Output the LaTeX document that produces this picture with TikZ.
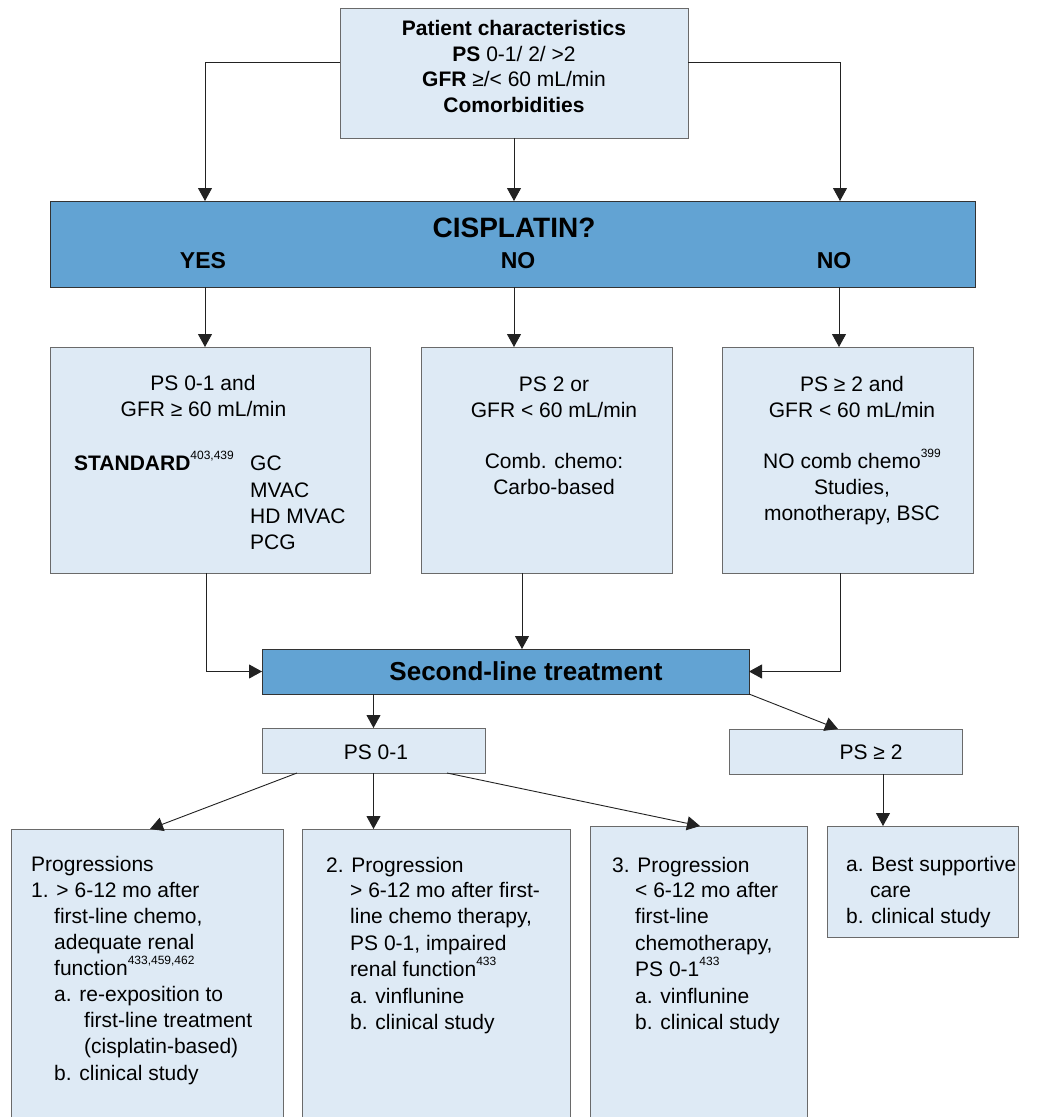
\documentclass[tikz,border=0pt]{standalone}
\usepackage{fontspec}
\setmainfont{Liberation Sans}
\usetikzlibrary{arrows.meta}
\definecolor{lightbox}{HTML}{DEEAF5}
\definecolor{darkbox}{HTML}{62A3D3}
\definecolor{edgegray}{HTML}{6A6A6A}
\definecolor{linegray}{HTML}{222222}
\newcommand{\sups}[1]{\raisebox{0.5em}{\fontsize{12}{12}\selectfont #1}}
\newcommand{\mybox}[6]{\node[#6, minimum width={#4-#2}, minimum height={#5-#3}] (#1) at ({(#2+#4)/2},{(#3+#5)/2}) {};}
\newcommand{\lt}[4]{\node[txt] (#1) at (#2,#3) {#4};}
\newcommand{\ct}[4]{\node[ctxt] (#1) at (#2,#3) {#4};}
\begin{document}
\begin{tikzpicture}[x=1pt,y=-1pt,
 lbox/.style={draw=edgegray, fill=lightbox, line width=1pt, inner sep=0pt, outer sep=0pt},
 dbox/.style={draw=black!80, fill=darkbox, line width=1pt, inner sep=0pt, outer sep=0pt},
 arr/.style={draw=linegray, line width=0.9pt, -{Triangle[length=13pt,width=14pt]}},
 txt/.style={font=\fontsize{21}{26}\selectfont, inner sep=0pt, anchor=base west},
 ctxt/.style={font=\fontsize{21}{26}\selectfont, inner sep=0pt, anchor=base},
]
\path[use as bounding box] (0,0) rectangle (1040,1117);
\clip (0,0) rectangle (1040,1117);
\fill[white] (0,0) rectangle (1040,1117);

% boxes
\mybox{top}{340}{8}{688}{138}{lbox}
\mybox{cis}{50}{201}{975}{287}{dbox}
\mybox{b1}{50}{347}{370}{573}{lbox}
\mybox{b2}{421}{347}{672}{573}{lbox}
\mybox{b3}{722}{347}{973}{573}{lbox}
\mybox{sl}{262}{649}{749}{694}{dbox}
\mybox{p01}{262}{728}{485}{773}{lbox}
\mybox{p2}{729}{729}{962}{774}{lbox}
\mybox{bA}{11}{829}{283}{1135}{lbox}
\mybox{bB}{302}{829}{570}{1135}{lbox}
\mybox{bC}{590}{826}{807}{1135}{lbox}
\mybox{bD}{827}{826}{1018}{937}{lbox}

% column coordinates
\coordinate (c1) at (205,0);
\coordinate (c3) at (839,0);
\coordinate (d1) at (206,0);
\coordinate (d2) at (522,0);
\coordinate (d3) at (840,0);

% connectors
\draw[arr] ([yshift=11pt]top.west) -| ([xshift=-307.5pt]cis.north);
\draw[arr] ([yshift=11pt]top.east) -| ([xshift=327.5pt]cis.north);
\draw[arr] (top.south) -- (top.south |- cis.north);
\draw[arr] (cis.south -| c1) -- (b1.north -| c1);
\draw[arr] (cis.south -| top.south) -- (b2.north -| top.south);
\draw[arr] (cis.south -| c3) -- (b3.north -| c3);
\draw[arr] (b1.south -| d1) |- (sl.west);
\draw[arr] (b2.south -| d2) -- (sl.north -| d2);
\draw[arr] (b3.south -| d3) |- (sl.east);
\draw[arr] (sl.south -| p01.north) -- (p01.north);
\draw[arr] (sl.south east) -- ([xshift=-7.5pt]p2.north);
\draw[arr] ([xshift=-76.5pt]p01.south) -- ([xshift=3pt]bA.north);
\draw[arr] (p01.south) -- (p01.south |- bB.north);
\draw[arr] ([xshift=73.5pt]p01.south) -- ([xshift=1.5pt]bC.north);
\draw[arr] ([xshift=37.5pt]p2.south) -- ([xshift=37.5pt]p2.south |- bD.north);

% texts: top
\ct{t1}{514}{35.5}{\textbf{Patient characteristics}}
\ct{t2}{514}{61}{\textbf{PS} 0-1/ 2/ >2}
\ct{t3}{514}{86.5}{\textbf{GFR} ≥/< 60 mL/min}
\ct{t4}{514}{112}{\textbf{Comorbidities}}
% cisplatin
\node[inner sep=0pt, anchor=base, font=\fontsize{28}{30}\selectfont\bfseries] (cq) at (514,237) {CISPLATIN?};
\node[inner sep=0pt, anchor=base, font=\fontsize{23}{25}\selectfont\bfseries] (yes) at (203,268) {YES};
\node[inner sep=0pt, anchor=base, font=\fontsize{23}{25}\selectfont\bfseries] (no1) at (518,268) {NO};
\node[inner sep=0pt, anchor=base, font=\fontsize{23}{25}\selectfont\bfseries] (no2) at (834,268) {NO};
% box 1
\ct{a1}{203}{390}{PS 0-1 and}
\ct{a2}{203.5}{416}{GFR ≥ 60 mL/min}
\lt{a3}{74}{470}{\textbf{STANDARD}\sups{403,439}}
\lt{a4}{250}{470}{GC}
\lt{a5}{250}{497}{MVAC}
\lt{a6}{250}{523}{HD MVAC}
\lt{a7}{250}{549}{PCG}
% box 2
\ct{e1}{554}{391}{PS 2 or}
\ct{e2}{554}{417}{GFR < 60 mL/min}
\ct{e3}{554}{468}{Comb. chemo:}
\ct{e4}{554}{494}{Carbo-based}
% box 3
\ct{f1}{852}{391}{PS ≥ 2 and}
\ct{f2}{852}{417}{GFR < 60 mL/min}
\ct{f3}{852}{468}{NO comb chemo\sups{399}}
\ct{f4}{852}{494}{Studies,}
\ct{f5}{852}{520}{monotherapy, BSC}
% second line
\node[inner sep=0pt, anchor=base, font=\fontsize{26}{28}\selectfont\bfseries] (slt) at (526,680) {Second-line treatment};
\ct{g1}{376}{759}{PS 0-1}
\ct{g2}{871}{759}{PS ≥ 2}
% box A
\lt{h1}{31}{871}{Progressions}
\lt{h2}{31}{897}{1. > 6-12 mo after}
\lt{h3}{54}{923}{first-line chemo,}
\lt{h4}{54}{949}{adequate renal}
\lt{h5}{54}{975}{function\sups{433,459,462}}
\lt{h6}{54}{1001}{a. re-exposition to}
\lt{h7}{84}{1027}{first-line treatment}
\lt{h8}{84}{1053}{(cisplatin-based)}
\lt{h9}{54}{1080}{b. clinical study}
% box B
\lt{i1}{326}{872}{2. Progression}
\lt{i2}{350}{897}{> 6-12 mo after first-}
\lt{i3}{350}{923}{line chemo therapy,}
\lt{i4}{350}{950}{PS 0-1, impaired}
\lt{i5}{350}{976}{renal function\sups{433}}
\lt{i6}{350}{1003}{a. vinflunine}
\lt{i7}{350}{1029}{b. clinical study}
% box C
\lt{j1}{612}{872}{3. Progression}
\lt{j2}{635}{897}{< 6-12 mo after}
\lt{j3}{635}{923}{first-line}
\lt{j4}{635}{950}{chemotherapy,}
\lt{j5}{635}{976}{PS 0-1\sups{433}}
\lt{j6}{635}{1003}{a. vinflunine}
\lt{j7}{635}{1029}{b. clinical study}
% box D
\lt{k1}{846}{871}{a. Best supportive}
\lt{k2}{870}{897}{care}
\lt{k3}{846}{923}{b. clinical study}
\end{tikzpicture}
\end{document}
